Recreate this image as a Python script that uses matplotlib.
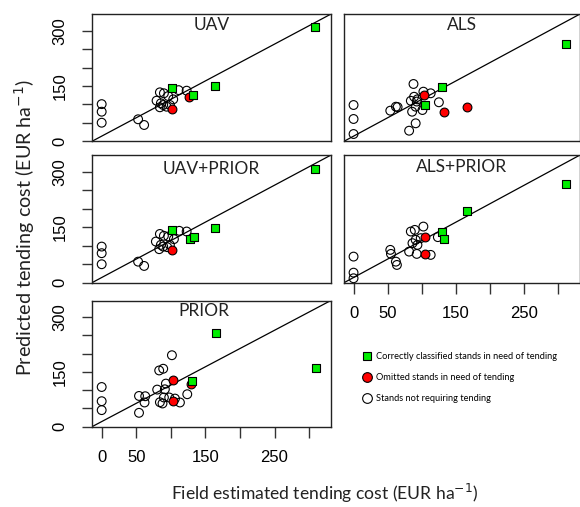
import matplotlib
matplotlib.use("Agg")
import matplotlib.pyplot as plt
from matplotlib.lines import Line2D

# ---------------- data ----------------
titles = ["UAV", "ALS", "UAV+PRIOR", "ALS+PRIOR", "PRIOR"]

uav_green_x = [309, 101.6, 132.5, 164.4]
uav_green_y = [310, 145, 126.6, 149.5]
uav_red_x = [101.6, 126.7]
uav_red_y = [87.8, 119.6]
uav_white_x = [0, 0, 0, 52.7, 61.4, 84.2, 90, 79.4, 85.6, 89, 84.2, 93.9, 98.7, 103.5, 111.3, 122.9, 96.3]
uav_white_y = [101, 80.4, 50.5, 59.8, 44.3, 133, 130.4, 110.3, 103.3, 98.6, 92.4, 94, 98.6, 114, 139, 137.5, 123]

als_green_x = [310.6, 130, 104.2]
als_green_y = [264, 146.7, 97.8]
als_red_x = [103.8, 131.8, 166.3]
als_red_y = [126.6, 79.6, 93.2]
als_white_x = [0, 0, 0, 53.8, 62, 64.5, 87.8, 88.7, 93.6, 83.9, 102.3, 113, 91, 85.8, 100.9, 125, 91, 81.4, 92.6]
als_white_y = [98.6, 60.6, 19.8, 83.2, 94, 93, 155.7, 121, 114, 110, 134.8, 130.4, 94, 80.4, 85, 106, 48.9, 28.8, 108]

uavp_green_x = [308, 101.6, 127.7, 133.9, 164.4]
uavp_green_y = [309, 143, 118.8, 125, 148.6]
uavp_red_x = [101.6]
uavp_red_y = [88]
uavp_white_x = [0, 0, 0, 52.7, 61.4, 84.2, 90, 78.4, 85.6, 89, 83.2, 94.8, 98.7, 104.5, 112.2, 122.9, 96.3]
uavp_white_y = [97.8, 79.9, 50, 57, 45.4, 132, 127, 111.4, 102.4, 97.8, 90.8, 96.2, 102.4, 118, 140.5, 138.6, 125]

alsp_green_x = [310.6, 166.3, 130, 132.3]
alsp_green_y = [267.4, 194, 138.6, 118]
alsp_red_x = [104.2, 104.2]
alsp_red_y = [125, 78]
alsp_white_x = [0, 0, 0, 53.8, 54.8, 62, 63.5, 83.9, 89.7, 102.3, 91, 86.3, 93.6, 81.4, 92.6, 113, 123.5, 98.4]
alsp_white_y = [70.7, 27.2, 12, 88.9, 78, 57, 48.1, 138.6, 143, 152, 116, 107, 102.4, 84.2, 78, 75.3, 123.4, 120.6]

prior_green_x = [165, 131, 310]
prior_green_y = [256.5, 126, 162]
prior_red_x = [102.6, 102.6, 128.7]
prior_red_y = [128.8, 69.8, 117]
prior_white_x = [0, 0, 0, 54, 54, 63, 62, 80.3, 83.2, 89, 101.6, 92.9, 84.2, 88, 97.7, 106, 113.2, 123.8, 91.4, 90]
prior_white_y = [108.7, 69.8, 45.4, 84.2, 38, 83.4, 66.3, 101.6, 154, 158.7, 195.7, 118, 67, 63.6, 80, 77, 66.3, 88.9, 102.4, 80]

ticks = [0, 50, 100, 150, 200, 250, 300]
x_ticklabels = ["0", "50", "", "150", "", "250", ""]
y_ticklabels = ["0", "", "", "150", "", "", "300"]

legend_labels = ["Correctly classified stands in need of tending",
                 "Omitted stands in need of tending",
                 "Stands not requiring tending"]

panels = [
    (uav_green_x, uav_green_y, uav_red_x, uav_red_y, uav_white_x, uav_white_y),
    (als_green_x, als_green_y, als_red_x, als_red_y, als_white_x, als_white_y),
    (uavp_green_x, uavp_green_y, uavp_red_x, uavp_red_y, uavp_white_x, uavp_white_y),
    (alsp_green_x, alsp_green_y, alsp_red_x, alsp_red_y, alsp_white_x, alsp_white_y),
    (prior_green_x, prior_green_y, prior_red_x, prior_red_y, prior_white_x, prior_white_y),
]

# ---------------- layout ----------------
W, H = 580, 507
fig = plt.figure(figsize=(W / 100, H / 100), dpi=100)

def px_rect(l, t, r, b):
    return [l / W, 1 - b / H, (r - l) / W, (b - t) / H]

rects = [
    px_rect(92, 14.3, 330.5, 141.3),
    px_rect(344, 14.3, 579.5, 141.3),
    px_rect(92, 155.3, 330.5, 282.7),
    px_rect(344, 155.3, 579.5, 282.7),
    px_rect(92, 300.7, 330.5, 426.7),
]
title_pos = [(0.5, 0.916), (0.5, 0.916), (0.5, 0.892), (0.5, 0.91), (0.468, 0.918)]
show_y = [True, False, True, False, True]
show_x = [False, False, False, True, True]

TXT = ["Lato", "DejaVu Sans"]
NUM = ["Liberation Sans", "DejaVu Sans"]

for i, (rect, data) in enumerate(zip(rects, panels)):
    ax = fig.add_axes(rect)
    gx, gy, rx, ry, wx, wy = data
    ax.plot([0, 1], [0, 1], transform=ax.transAxes, color="black", lw=0.9, zorder=1)
    ax.scatter(wx, wy, s=40, facecolors="none", edgecolors="black", linewidths=0.8, zorder=2)
    ax.scatter(rx, ry, s=40, facecolors="#ff0000", edgecolors="black", linewidths=0.8, zorder=3)
    ax.scatter(gx, gy, s=30, marker="s", facecolors="#00ee00", edgecolors="black", linewidths=0.8, zorder=4)
    ax.set_xlim(-14, 331)
    ax.set_ylim(0, 345)
    for sp in ax.spines.values():
        sp.set_linewidth(1.0)
        sp.set_color("#222222")
    ax.text(title_pos[i][0], title_pos[i][1], titles[i], transform=ax.transAxes,
            ha="center", va="center", fontsize=12.5, family=TXT, color="#222222")
    if show_y[i]:
        ax.set_yticks(ticks)
        ax.set_yticklabels(y_ticklabels, rotation=90, va="center", family=NUM, fontsize=12)
        ax.tick_params(axis="y", length=7.5, width=1.0, pad=10, color="#333333")
    else:
        ax.set_yticks([])
    if show_x[i]:
        ax.set_xticks(ticks)
        ax.set_xticklabels(x_ticklabels, family=NUM, fontsize=12)
        ax.tick_params(axis="x", length=8, width=1.0, pad=9, color="#333333")
    else:
        ax.set_xticks([])

fig.text(25 / W, 1 - 227.5 / H, r"Predicted tending cost (EUR ha$^{-1}$)", rotation=90,
         ha="center", va="center", fontsize=14.2, family=TXT, color="#222222")
fig.text(325 / W, 1 - 493 / H, r"Field estimated tending cost (EUR ha$^{-1}$)",
         ha="center", va="center", fontsize=12.6, family=TXT, color="#222222")

handles = [
    Line2D([], [], marker="s", ls="none", markersize=6, markerfacecolor="#00ee00", markeredgecolor="black", markeredgewidth=0.8),
    Line2D([], [], marker="o", ls="none", markersize=7, markerfacecolor="#ff0000", markeredgecolor="black", markeredgewidth=0.8),
    Line2D([], [], marker="o", ls="none", markersize=7, markerfacecolor="none", markeredgecolor="black", markeredgewidth=0.8),
]
fig.legend(handles, legend_labels, loc="upper left", bbox_to_anchor=(362 / W, 1 - 352 / H),
           frameon=False, prop={"family": TXT, "size": 6.7}, handlelength=1.0,
           handletextpad=0.5, labelspacing=1.3, borderpad=0, borderaxespad=0)

fig.savefig("out.png", dpi=100)
